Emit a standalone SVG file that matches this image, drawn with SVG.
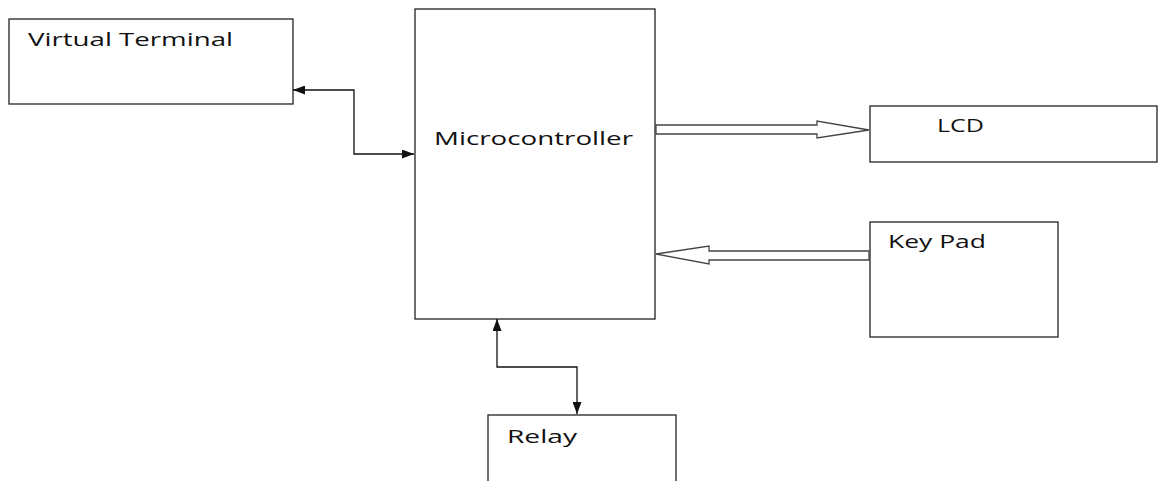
<svg xmlns="http://www.w3.org/2000/svg" width="1160" height="481" viewBox="0 0 1160 481">
<style>
.box{fill:#fff;stroke:#222;stroke-width:1.3}
.lbl{font-family:"Open Sans","Liberation Sans",sans-serif;font-size:19px;fill:#111}
.wire{fill:none;stroke:#111;stroke-width:1.3}
.hollow{fill:#fff;stroke:#444;stroke-width:1.3;stroke-linejoin:miter}
</style>
<defs>
<marker id="ah" viewBox="0 0 12 9" refX="12" refY="4.5" markerWidth="12" markerHeight="9" markerUnits="userSpaceOnUse" orient="auto-start-reverse">
<path d="M0,0 L12,4.5 L0,9 Z" fill="#111"/>
</marker>
</defs>
<rect width="1160" height="481" fill="#fff"/>
<g id="virtual-terminal"><rect class="box" x="9" y="19" width="284" height="85"/><text class="lbl" x="28" y="46" textLength="205" lengthAdjust="spacingAndGlyphs">Virtual Terminal</text></g>
<g id="microcontroller"><rect class="box" x="415" y="9" width="240" height="310"/><text class="lbl" x="434" y="145" textLength="199" lengthAdjust="spacingAndGlyphs">Microcontroller</text></g>
<g id="lcd"><rect class="box" x="870" y="106" width="287" height="56"/><text class="lbl" x="937" y="132" textLength="47" lengthAdjust="spacingAndGlyphs">LCD</text></g>
<g id="keypad"><rect class="box" x="870" y="222" width="188" height="115"/><text class="lbl" x="888" y="248" textLength="98" lengthAdjust="spacingAndGlyphs">Key Pad</text></g>
<g id="relay"><rect class="box" x="488" y="415" width="188" height="80"/><text class="lbl" x="507" y="443" textLength="70" lengthAdjust="spacingAndGlyphs">Relay</text></g>
<g id="connectors">
<path class="wire" d="M293,90 L354,90 L354,154 L414,154" marker-start="url(#ah)" marker-end="url(#ah)"/>
<path class="wire" d="M497,319 L497,367 L577,367 L577,414" marker-start="url(#ah)" marker-end="url(#ah)"/>
<path class="hollow" d="M656,125 L817,125 L817,121 L869,130 L817,138 L817,134 L656,134 Z"/>
<path class="hollow" d="M869,251 L709,251 L709,246 L656,254 L709,264 L709,260 L869,260 Z"/>
</g>
</svg>
